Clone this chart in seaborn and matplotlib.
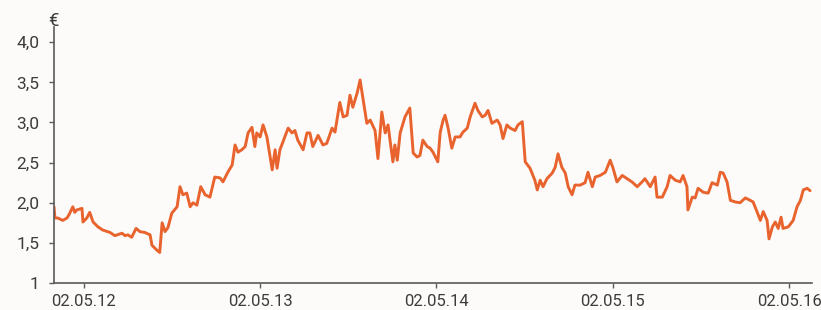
import numpy as np
import pandas as pd
import matplotlib
matplotlib.use("Agg")
import matplotlib.pyplot as plt
import seaborn as sns

# ---- data ----
start_date = "2012-05-02"
# days relative to 02.05.2012
day_offsets = [
    -62, -60, -54, -44, -35, -31, -23, -19, -15, -4, -2, 6, 12, 19, 29, 39, 54, 64, 79, 85,
    91, 99, 108, 116, 126, 137, 141, 151, 157, 162, 168, 174, 182, 193, 199, 205, 213, 220, 226, 234,
    242, 251, 261, 271, 282, 288, 298, 307, 313, 319, 327, 334, 340, 348, 354, 358, 365, 371, 379, 390,
    396, 400, 406, 416, 423, 431, 437, 443, 454, 462, 468, 474, 485, 495, 503, 514, 520, 530, 537, 545,
    551, 557, 566, 572, 578, 586, 593, 603, 609, 617, 624, 630, 634, 640, 644, 649, 655, 665, 675, 682,
    690, 696, 702, 711, 717, 723, 733, 738, 744, 748, 754, 762, 769, 779, 785, 794, 800, 810, 816, 825,
    831, 837, 845, 856, 862, 868, 876, 883, 893, 899, 908, 914, 924, 934, 939, 945, 951, 959, 970, 976,
    982, 990, 997, 1003, 1011, 1017, 1028, 1038, 1044, 1053, 1059, 1069, 1080, 1090, 1096, 1104, 1115, 1125, 1135, 1146,
    1156, 1162, 1173, 1183, 1187, 1198, 1208, 1214, 1225, 1235, 1241, 1249, 1251, 1260, 1266, 1272, 1283, 1293, 1301, 1312,
    1318, 1324, 1332, 1339, 1349, 1359, 1370, 1380, 1386, 1394, 1401, 1407, 1415, 1419, 1426, 1432, 1438, 1444, 1448, 1459,
    1469, 1477, 1484, 1490, 1498, 1504,
]
price = [
    1.95, 1.81, 1.81, 1.78, 1.81, 1.85, 1.95, 1.88, 1.91, 1.93, 1.76, 1.81, 1.88, 1.76, 1.70, 1.66, 1.63, 1.59, 1.62, 1.59,
    1.60, 1.57, 1.68, 1.64, 1.63, 1.60, 1.47, 1.41, 1.38, 1.75, 1.64, 1.69, 1.87, 1.95, 2.20, 2.10, 2.12, 1.95, 2.00, 1.97,
    2.20, 2.10, 2.07, 2.32, 2.31, 2.26, 2.38, 2.47, 2.72, 2.63, 2.66, 2.70, 2.87, 2.94, 2.70, 2.87, 2.82, 2.97, 2.82, 2.41,
    2.66, 2.43, 2.66, 2.82, 2.93, 2.87, 2.90, 2.78, 2.66, 2.87, 2.87, 2.70, 2.84, 2.72, 2.74, 2.93, 2.88, 3.25, 3.07, 3.09,
    3.34, 3.19, 3.37, 3.53, 3.30, 2.99, 3.03, 2.90, 2.55, 3.13, 2.87, 2.97, 2.78, 2.51, 2.72, 2.53, 2.87, 3.07, 3.18, 2.62,
    2.57, 2.59, 2.78, 2.70, 2.68, 2.63, 2.51, 2.88, 3.03, 3.09, 2.94, 2.68, 2.82, 2.82, 2.88, 2.93, 3.07, 3.24, 3.15, 3.07,
    3.09, 3.15, 2.99, 3.03, 2.97, 2.80, 2.97, 2.93, 2.90, 2.97, 3.01, 2.51, 2.43, 2.28, 2.16, 2.28, 2.20, 2.30, 2.37, 2.44,
    2.61, 2.44, 2.37, 2.20, 2.10, 2.22, 2.22, 2.25, 2.38, 2.20, 2.32, 2.34, 2.38, 2.53, 2.43, 2.26, 2.34, 2.30, 2.26, 2.20,
    2.26, 2.30, 2.20, 2.32, 2.07, 2.07, 2.20, 2.34, 2.28, 2.26, 2.34, 2.20, 1.91, 2.07, 2.06, 2.18, 2.13, 2.12, 2.25, 2.22,
    2.38, 2.37, 2.26, 2.03, 2.01, 2.00, 2.06, 2.03, 2.01, 1.89, 1.78, 1.89, 1.78, 1.55, 1.70, 1.76, 1.68, 1.82, 1.68, 1.70,
    1.78, 1.95, 2.03, 2.16, 2.18, 2.15,
]
x_tick_dates = ["2012-05-02", "2013-05-02", "2014-05-02", "2015-05-02", "2016-05-02"]
x_tick_labels = ["02.05.12", "02.05.13", "02.05.14", "02.05.15", "02.05.16"]
y_ticks = [1, 1.5, 2.0, 2.5, 3.0, 3.5, 4.0]
y_tick_labels = ["1", "1,5", "2,0", "2,5", "3,0", "3,5", "4,0"]
unit_label = "€"

df = pd.DataFrame({
    "date": pd.Timestamp(start_date) + pd.to_timedelta(day_offsets, unit="D"),
    "price": price,
})

# ---- style ----
sns.set_style("ticks")
plt.rcParams["font.family"] = ["Roboto", "DejaVu Sans"]
bg = "#fcfbf9"
axis_col = "#5a5a5a"
text_col = "#3c3c3c"
line_col = "#e8632e"

fig = plt.figure(figsize=(8.21, 3.10), dpi=100, facecolor=bg)
ax = fig.add_axes([53.5 / 821, 27 / 310, (812 - 53.5) / 821, 256 / 310])
ax.set_facecolor(bg)

sns.lineplot(data=df, x="date", y="price", ax=ax, color=line_col,
             linewidth=2.1, estimator=None, sort=True)

ax.set_xlim(pd.Timestamp(start_date) + pd.Timedelta(days=-63),
            pd.Timestamp(start_date) + pd.Timedelta(days=1508))
ax.set_ylim(1, 4.19)

ax.set_xticks(pd.to_datetime(x_tick_dates))
ax.set_xticklabels(x_tick_labels)
ax.set_yticks(y_ticks)
ax.set_yticklabels(y_tick_labels)

ax.set_xlabel("")
ax.set_ylabel("")
for s in ["top", "right"]:
    ax.spines[s].set_visible(False)
for s in ["left", "bottom"]:
    ax.spines[s].set_color(axis_col)
    ax.spines[s].set_linewidth(1.2)

ax.tick_params(axis="both", colors=axis_col, labelcolor=text_col,
               labelsize=12.5, length=3.5, width=1.0)
ax.tick_params(axis="x", labelsize=12, pad=4.5)
ax.tick_params(axis="y", pad=6.5)

fig.text(53.5 / 821, 1 - 21 / 310, unit_label, ha="center", va="center",
         fontsize=13.5, color=text_col)

fig.savefig("out.png", dpi=100, facecolor=bg)
